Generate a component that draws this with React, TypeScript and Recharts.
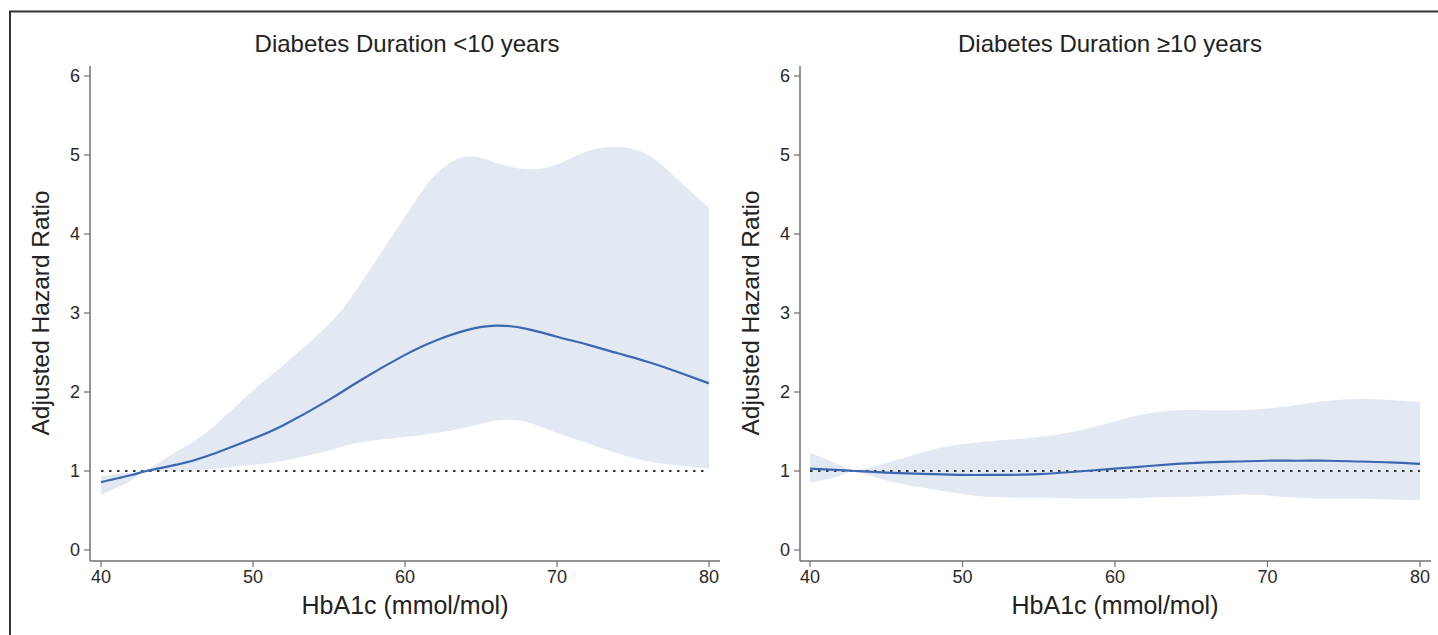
import React from 'react';
import { ComposedChart, Area, Line, XAxis, YAxis, ReferenceLine } from 'recharts';

// Panel 1: Diabetes duration < 10 years
const hba1cShort = [40, 42, 43, 45, 47, 50, 52, 55, 57, 60, 62, 64, 66, 68, 70, 72, 74, 76, 78, 80];
const hrShort = [0.86, 0.95, 1.0, 1.08, 1.19, 1.41, 1.58, 1.9, 2.14, 2.47, 2.65, 2.78, 2.84, 2.8, 2.7, 2.6, 2.49, 2.38, 2.25, 2.11];
const loShort = [0.7, 0.88, 0.99, 1.0, 1.02, 1.08, 1.13, 1.26, 1.36, 1.43, 1.48, 1.55, 1.64, 1.62, 1.48, 1.35, 1.22, 1.12, 1.07, 1.03];
const hiShort = [0.93, 0.98, 1.01, 1.25, 1.5, 2.02, 2.34, 2.86, 3.35, 4.22, 4.75, 4.98, 4.9, 4.82, 4.88, 5.05, 5.1, 5.0, 4.68, 4.33];

// Panel 2: Diabetes duration >= 10 years
const hba1cLong = [40, 42, 43, 45, 48, 50, 52, 55, 58, 60, 62, 64, 66, 68, 70, 72, 74, 76, 78, 80];
const hrLong = [1.03, 1.01, 1.0, 0.98, 0.96, 0.95, 0.95, 0.96, 1.0, 1.03, 1.06, 1.09, 1.11, 1.12, 1.13, 1.13, 1.13, 1.12, 1.11, 1.09];
const loLong = [0.85, 0.94, 0.99, 0.88, 0.77, 0.71, 0.67, 0.66, 0.65, 0.65, 0.66, 0.67, 0.68, 0.7, 0.69, 0.66, 0.65, 0.65, 0.64, 0.63];
const hiLong = [1.23, 1.07, 1.01, 1.1, 1.27, 1.34, 1.38, 1.43, 1.53, 1.63, 1.72, 1.77, 1.77, 1.77, 1.79, 1.84, 1.89, 1.91, 1.9, 1.87];

const xTicks = [40, 50, 60, 70, 80];
const yTicks = [0, 1, 2, 3, 4, 5, 6];
const panelTitles = ['Diabetes Duration <10 years', 'Diabetes Duration \u226510 years'];
const xTitle = 'HbA1c (mmol/mol)';
const yTitle = 'Adjusted Hazard Ratio';
const refValue = 1;

const FONT = '"Liberation Sans", Arial, Helvetica, sans-serif';
const AXIS = '#6f6f6f';
const LINE = '#3b66b2';
const BAND = '#e3e9f3';

function build(x: number[], hr: number[], lo: number[], hi: number[]) {
  return x.map((v, i) => ({ x: v, hr: hr[i], band: [lo[i], hi[i]] }));
}

const dataShort = build(hba1cShort, hrShort, loShort, hiShort);
const dataLong = build(hba1cLong, hrLong, loLong, hiLong);

type PanelProps = {
  data: { x: number; hr: number; band: number[] }[];
  left: number;
  width: number;
  yAxisWidth: number;
  marginRight: number;
  padLeft: number;
  padRight: number;
};

function Panel({ data, left, width, yAxisWidth, marginRight, padLeft, padRight }: PanelProps) {
  const tick = { fontSize: 18, fill: '#2a2a2a', fontFamily: FONT };
  return (
    <div style={{ position: 'absolute', left, top: 0 }}>
      <ComposedChart
        width={width}
        height={635}
        data={data}
        margin={{ top: 66, right: marginRight, bottom: 0, left: 0 }}
      >
        <XAxis
          dataKey="x"
          type="number"
          domain={[40, 80]}
          ticks={xTicks}
          interval={0}
          padding={{ left: padLeft, right: padRight }}
          height={74}
          tickSize={6}
          tickMargin={3}
          tick={tick}
          axisLine={{ stroke: AXIS, strokeWidth: 1.5 }}
          tickLine={{ stroke: AXIS, strokeWidth: 1.2 }}
          allowDataOverflow
        />
        <YAxis
          type="number"
          domain={[0, 6]}
          ticks={yTicks}
          interval={0}
          width={yAxisWidth}
          padding={{ top: 10, bottom: 11 }}
          tickSize={6}
          tickMargin={4}
          tick={tick}
          axisLine={{ stroke: AXIS, strokeWidth: 1.5 }}
          tickLine={{ stroke: AXIS, strokeWidth: 1.2 }}
          allowDataOverflow
        />
        <Area
          type="natural"
          dataKey="band"
          stroke="none"
          fill={BAND}
          fillOpacity={1}
          isAnimationActive={false}
          activeDot={false}
        />
        <ReferenceLine
          segment={[{ x: 40, y: refValue }, { x: 80, y: refValue }]}
          stroke="#3a3a3a"
          strokeWidth={2.2}
          strokeDasharray="2.5 5.5"
        />
        <Line
          type="natural"
          dataKey="hr"
          stroke={LINE}
          strokeWidth={2.2}
          dot={false}
          activeDot={false}
          isAnimationActive={false}
        />
      </ComposedChart>
    </div>
  );
}

export default function App() {
  return (
    <div
      style={{
        position: 'absolute',
        left: 0,
        top: 0,
        width: 1438,
        height: 635,
        overflow: 'hidden',
        background: '#fff',
      }}
    >
      <Panel data={dataShort} left={0} width={720} yAxisWidth={90} marginRight={0} padLeft={11} padRight={11} />
      <Panel data={dataLong} left={720} width={718} yAxisWidth={80} marginRight={7} padLeft={10} padRight={11} />
      <svg
        width={1438}
        height={635}
        style={{ position: 'absolute', left: 0, top: 0, pointerEvents: 'none' }}
      >
        <line x1={9} y1={11.5} x2={1438} y2={11.5} stroke="#333" strokeWidth={2} />
        <line x1={10} y1={11} x2={10} y2={635} stroke="#333" strokeWidth={2} />
        <g fontFamily={FONT} fill="#222">
          <text x={407} y={52} fontSize={24} textAnchor="middle">{panelTitles[0]}</text>
          <text x={1110} y={52} fontSize={24} textAnchor="middle">{panelTitles[1]}</text>
          <text x={405} y={614} fontSize={25} textAnchor="middle">{xTitle}</text>
          <text x={1115} y={614} fontSize={25} textAnchor="middle">{xTitle}</text>
          <text transform="translate(49,313) rotate(-90)" fontSize={24.5} textAnchor="middle">{yTitle}</text>
          <text transform="translate(759,313) rotate(-90)" fontSize={24.5} textAnchor="middle">{yTitle}</text>
        </g>
      </svg>
    </div>
  );
}
